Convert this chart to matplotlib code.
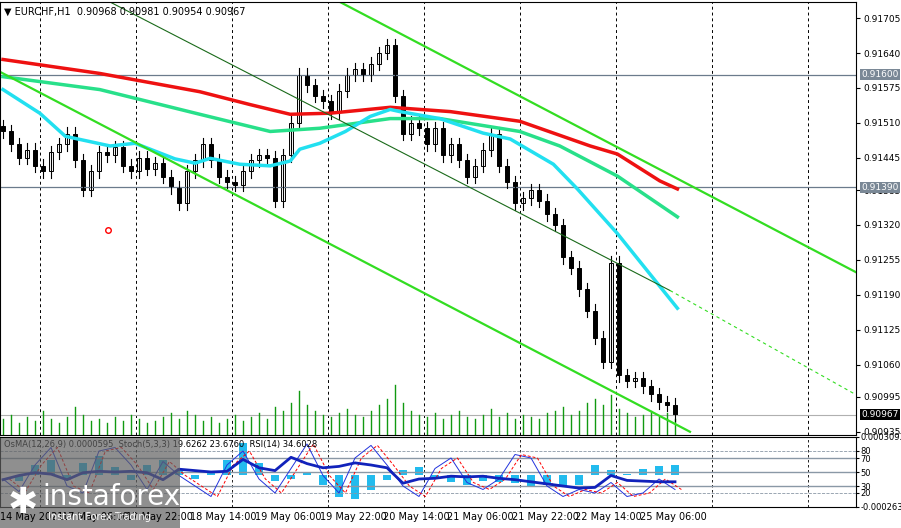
import matplotlib
matplotlib.use("Agg")
import matplotlib.pyplot as plt
import numpy as np
from matplotlib.patches import Rectangle

closes = [0.91494,0.91470,0.91445,0.91460,0.91430,0.91420,0.91455,0.91470,0.91490,0.91440,
          0.91385,0.91420,0.91455,0.91450,0.91465,0.91430,0.91420,0.91445,0.91425,0.91435,
          0.91410,0.91390,0.91360,0.91420,0.91440,0.91470,0.91440,0.91410,0.91400,0.91395,
          0.91420,0.91440,0.91450,0.91445,0.91365,0.91450,0.91510,0.91600,0.91580,0.91560,
          0.91550,0.91530,0.91570,0.91600,0.91610,0.91600,0.91620,0.91640,0.91655,0.91560,
          0.91490,0.91510,0.91500,0.91470,0.91500,0.91450,0.91470,0.91440,0.91410,0.91430,
          0.91460,0.91490,0.91430,0.91400,0.91360,0.91370,0.91385,0.91365,0.91340,0.91320,
          0.91260,0.91240,0.91200,0.91160,0.91110,0.91065,0.91250,0.91040,0.91030,0.91035,
          0.91020,0.91005,0.90990,0.90985,0.90967]
volumes = [8,10,6,9,7,12,8,6,9,14,10,7,8,6,9,7,10,8,6,7,
           9,11,8,12,10,7,9,6,8,10,7,9,11,8,14,12,16,22,15,12,
           10,9,11,13,10,9,12,15,18,25,16,12,10,9,11,8,10,12,9,8,
           10,13,9,11,8,10,9,8,11,12,14,10,12,16,18,15,20,13,11,9,
           10,12,9,11,8]
red_x = [0,12.1,24.6,30.9,35.9,40.9,48.4,55.9,64.6,73.4,76.8,82.1,84.3]
ma_red = [0.91628,0.91602,0.91568,0.91544,0.91526,0.91528,0.91539,0.91531,0.91513,0.91467,0.91452,0.91402,0.91387]
green_x = [0,12.1,24.6,33.4,39.6,48.4,54.6,64.6,69.6,76.8,84.3]
ma_green = [0.91596,0.91572,0.91526,0.91494,0.91500,0.91518,0.91518,0.91494,0.91467,0.91411,0.91335]
cyan_x = [0,4.6,7.8,13.4,16.5,21.5,24,25.9,29.6,33.4,35.9,37.1,39.6,42.8,45.9,48.4,
          49.6,54.6,60,63.4,68.8,71.8,76.8,84.3]
ma_cyan = [0.91572,0.91528,0.91485,0.91467,0.91472,0.91443,0.91435,0.91444,0.91433,0.91430,
           0.91439,0.91461,0.91472,0.91494,0.91522,0.91535,0.91531,0.91518,0.91491,0.91480,
           0.91433,0.91387,0.91304,0.91165]

osc_x = list(range(0, 86, 2))
rsi = [39,45,49,47,39,49,51,50,51,49,39,54,52,50,51,68,56,52,71,62,56,58,63,60,
       56,34,40,41,44,43,44,41,39,36,33,30,27,28,45,38,37,36,36]
stoch = [40,22,60,85,30,20,80,85,60,25,65,45,30,15,60,80,40,20,55,90,45,20,70,88,
         60,30,15,55,70,35,25,40,75,70,30,15,25,20,35,15,20,40,25]
osma = [0.00000,-0.00005,0.00008,0.00012,-0.00003,0.00010,0.00015,0.00006,-0.00004,0.00008,
        0.00012,0.00004,-0.00003,0.00003,0.00012,0.00026,0.00010,-0.00005,-0.00003,0.00002,
        -0.00008,-0.00018,-0.00020,-0.00012,-0.00004,0.00004,0.00006,-0.00002,-0.00006,-0.00008,
        -0.00005,-0.00006,-0.00007,-0.00009,-0.00008,-0.00010,-0.00008,0.00008,0.00004,0.00001,
        0.00005,0.00007,0.00008]

price_ticks = [0.90935,0.91000,0.91060,0.91125,0.91190,0.91255,0.91320,0.91385,0.91445,0.91510,0.91575,0.91640,0.91705]
tick_labels = ["0.90935","0.90995","0.91060","0.91125","0.91190","0.91255","0.91320","0.91385","0.91445","0.91510","0.91575","0.91640","0.91705"]
time_labels = ["14 May 2021","17 May 06:00","17 May 22:00","18 May 14:00","19 May 06:00","19 May 22:00",
               "20 May 14:00","21 May 06:00","21 May 22:00","22 May 14:00","25 May 06:00"]

W, H = 901, 528
fig = plt.figure(figsize=(W/100, H/100), dpi=100)
fig.patch.set_facecolor("white")
xmin = -0.375; xmax = xmin + 856/8
ymin, ymax = 0.90929, 0.91735

ax = fig.add_axes([0, 1-435/H, 856/W, 433/H])
ax.set_xlim(xmin, xmax); ax.set_ylim(ymin, ymax)
for s in ax.spines.values(): s.set_color("black"); s.set_linewidth(0.8)

for k in range(0, 9):
    ax.axvline((40 + 96*k)/8 + xmin, color="black", ls=(0,(3,3)), lw=0.7)
ax.axhline(0.91600, color="#6b7b8c", lw=0.9)
ax.axhline(0.91390, color="#6b7b8c", lw=0.9)
ax.axhline(0.90967, color="#b0b0b0", lw=0.8)

vscale = 0.000037
for i, v in enumerate(volumes):
    ax.plot([i, i], [ymin, ymin + v*vscale], color="#119911", lw=1.0)

opens = [closes[0] + 0.0001] + closes[:-1]
for i, (o, c) in enumerate(zip(opens, closes)):
    hi = max(o, c) + 0.00012
    lo = min(o, c) - 0.00012
    ax.plot([i, i], [lo, hi], color="black", lw=0.8)
    ax.add_patch(Rectangle((i-0.22, min(o, c)), 0.44, max(abs(c-o), 0.00002),
                           facecolor="white" if c >= o else "black", edgecolor="black", lw=0.7))

ax.plot(green_x, ma_green, color="#28e08a", lw=2.5)
ax.plot(red_x, ma_red, color="#ee1111", lw=2.5)
ax.plot(cyan_x, ma_cyan, color="#22e0f0", lw=2.5)

def px2x(p): return p/8 + xmin
ax.plot([px2x(340), px2x(856)], [0.91735, 0.91232], color="#33dd22", lw=1.6)
ax.plot([px2x(0), px2x(690)], [0.91605, 0.90935], color="#33dd22", lw=1.6)
ax.plot([px2x(110), px2x(670)], [0.91735, 0.91198], color="#1a6a1a", lw=0.8)
ax.plot([px2x(670), px2x(856)], [0.91198, 0.91004], color="#33dd22", lw=0.8, ls=(0,(3,3)))
ax.plot(px2x(108), 0.91310, marker="o", ms=4, mfc="none", mec="red", mew=1)

ax.yaxis.tick_right()
ax.set_yticks(price_ticks); ax.set_yticklabels(tick_labels, fontsize=6.5)
ax.tick_params(axis="y", length=3, pad=2)
ax.set_xticks([])
for val, txt, bg in [(0.91600, "0.91600", "#7a8896"), (0.91390, "0.91390", "#7a8896"), (0.90967, "0.90967", "black")]:
    ax.text(1.006, val, txt, transform=ax.get_yaxis_transform(), fontsize=6.5, color="white",
            va="center", ha="left", bbox=dict(boxstyle="square,pad=0.12", fc=bg, ec="none"), zorder=5)
ax.text(0.005, 0.99, "▼ EURCHF,H1  0.90968 0.90981 0.90954 0.90967", transform=ax.transAxes,
        fontsize=7, va="top", ha="left")

sx = fig.add_axes([0, 1-507/H, 856/W, 70/H])
sx.set_xlim(xmin, xmax); sx.set_ylim(0, 100)
for s in sx.spines.values(): s.set_color("black"); s.set_linewidth(0.8)
for k in range(0, 9):
    sx.axvline((40 + 96*k)/8 + xmin, color="black", ls=(0,(3,3)), lw=0.6)
for lv, st in [(80, "--"), (70, "-"), (50, "-"), (30, "-"), (20, "--")]:
    sx.axhline(lv, color="#8a98a6", lw=1.0 if st == "-" else 0.6, ls=st)
omax, omin = 0.0003093, -0.000263
zero = (0 - omin)/(omax - omin)*100
osv = [(v - omin)/(omax - omin)*100 for v in osma]
sx.bar(osc_x, [v - zero for v in osv], bottom=zero, width=1.0, color="#22bbee")
sx.plot(osc_x, stoch, color="#2233dd", lw=0.7)
sx.plot([x+0.8 for x in osc_x], stoch, color="red", lw=0.7, ls=(0,(3,2)))
sx.plot(osc_x, rsi, color="#1122bb", lw=2)
sx.set_xticks([])
sx.yaxis.tick_right()
sx.set_yticks([100, 80, 70, 50, 30, 20, 0])
sx.set_yticklabels(["0.0003093", "80", "70", "50", "30", "20", "-0.000263"], fontsize=6)
sx.tick_params(axis="y", length=2, pad=1)
sx.text(0.005, 0.95, "OsMA(12,26,9) 0.0000595  Stoch(5,3,3) 19.6262 23.6760  RSI(14) 34.6028",
        transform=sx.transAxes, fontsize=6, va="top")

lx = [0, 62, 126, 190, 255, 320, 383, 447, 512, 575, 640]
for x, t in zip(lx, time_labels):
    fig.text(x/W, 1-517/H, t, fontsize=7, va="center", ha="left")

fig.patches.append(Rectangle((0, 0), 180/W, 90/H, transform=fig.transFigure, fc="#606060", alpha=0.7, ec="none"))
fig.text(42/W, 1-497/H, "instaforex", fontsize=20, color="white", va="center", ha="left")
fig.text(48/W, 1-517/H, "Instant Forex Trading", fontsize=7, color="white", va="center", ha="left")
fig.text(8/W, 1-503/H, "✱", fontsize=26, color="white", va="center", ha="left")

fig.savefig("out.png", dpi=100)
